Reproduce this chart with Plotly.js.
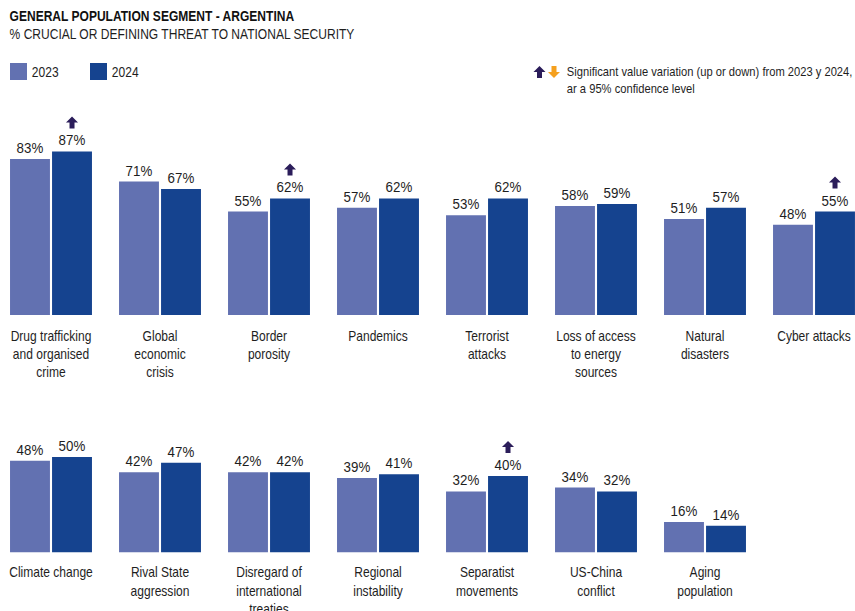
<!DOCTYPE html>
<html><head><meta charset="utf-8">
<script src="https://cdn.plot.ly/plotly-3.0.1.min.js"></script>
<style>
html,body{margin:0;padding:0;background:#fff;overflow:hidden;width:855px;height:611px}
#c{width:994px;height:611px;transform:scaleX(0.86016);transform-origin:0 0}
</style>
</head><body><div id="c"></div>
<script>
const cats1 = ["Drug trafficking<br>and organised<br>crime","Global<br>economic<br>crisis","Border<br>porosity","Pandemics","Terrorist<br>attacks","Loss of access<br>to energy<br>sources","Natural<br>disasters","Cyber attacks"];
const v2023_1 = [83,71,55,57,53,58,51,48];
const v2024_1 = [87,67,62,62,62,59,57,55];
const sig1 = [1,0,1,0,0,0,0,1];
const cats2 = ["Climate change","Rival State<br>aggression","Disregard of<br>international<br>treaties","Regional<br>instability","Separatist<br>movements","US-China<br>conflict","Aging<br>population"];
const v2023_2 = [48,42,42,39,32,34,16];
const v2024_2 = [50,47,42,41,40,32,14];
const sig2 = [0,0,0,0,1,0,0];
const years = ["2023","2024"];

const S = 855 / 994;   // horizontal compression of the page
const C23 = "#6271b1", C24 = "#15438f", ARROW = "#2b1d5a", ORANGE = "#f5a01e";
const FONT = "Liberation Sans, Arial, sans-serif";
const TXT = "#1e1e1e";
const BARGAP = 0.229;
const off24 = (1 - BARGAP) / 4;

function idx(a){ return a.map((_, i) => i); }
function bar(vals, color, xa, ya, name){
  return {type:"bar", x: idx(vals), y: vals, xaxis: xa, yaxis: ya, name: name,
    marker:{color: color}, text: vals.map(v => v + "%"), textposition: "outside",
    textfont:{family: FONT, size: 15.5, color: TXT}, cliponaxis: false,
    hoverinfo: "skip", showlegend: false};
}
const data = [
  bar(v2023_1, C23, "x", "y", years[0]), bar(v2024_1, C24, "x", "y", years[1]),
  bar(v2023_2, C23, "x2", "y2", years[0]), bar(v2024_2, C24, "x2", "y2", years[1])
];

function hx(v){ return (v / S).toFixed(2); }
function arrowUp(base){ // base = pixel offset of stem bottom
  const h = base + 6, t = base + 12;
  return `M0,${t} L${hx(6)},${h} L${hx(2.5)},${h} L${hx(2.5)},${base} L${hx(-2.5)},${base} L${hx(-2.5)},${h} L${hx(-6)},${h} Z`;
}
const shapes = [];
function arrows(sig, vals, xr, yr){
  sig.forEach((s, i) => { if (s) shapes.push({type:"path", xref: xr, yref: yr,
    xsizemode:"pixel", ysizemode:"pixel", xanchor: i + off24, yanchor: vals[i],
    path: arrowUp(23), fillcolor: ARROW, line:{width:0}}); });
}
arrows(sig1, v2024_1, "x", "y");
arrows(sig2, v2024_2, "x2", "y2");
// legend swatches
function px(xp){ return xp / 855; }
function py(yp){ return 1 - yp / 611; }
shapes.push({type:"rect", xref:"paper", yref:"paper", x0:px(10), x1:px(27), y0:py(80), y1:py(63), fillcolor:C23, line:{width:0}});
shapes.push({type:"rect", xref:"paper", yref:"paper", x0:px(90), x1:px(107), y0:py(80), y1:py(63), fillcolor:C24, line:{width:0}});
shapes.push({type:"path", xref:"paper", yref:"paper", xsizemode:"pixel", ysizemode:"pixel", xanchor:px(539.5), yanchor:py(72),
  path:arrowUp(-6), fillcolor:ARROW, line:{width:0}});
shapes.push({type:"path", xref:"paper", yref:"paper", xsizemode:"pixel", ysizemode:"pixel", xanchor:px(554), yanchor:py(72),
  path:`M0,-6 L${hx(6)},0 L${hx(2.5)},0 L${hx(2.5)},6 L${hx(-2.5)},6 L${hx(-2.5)},0 L${hx(-6)},0 Z`, fillcolor:ORANGE, line:{width:0}});

const annotations = [
  {xref:"paper", yref:"paper", x:px(8), y:py(16.5), xanchor:"left", yanchor:"middle", showarrow:false,
   text:"<b>GENERAL POPULATION SEGMENT - ARGENTINA</b>", font:{family:FONT, size:14, color:"#111"}},
  {xref:"paper", yref:"paper", x:px(8), y:py(34.5), xanchor:"left", yanchor:"middle", showarrow:false,
   text:"% CRUCIAL OR DEFINING THREAT TO NATIONAL SECURITY", font:{family:FONT, size:14, color:TXT}},
  {xref:"paper", yref:"paper", x:px(30), y:py(72), xanchor:"left", yanchor:"middle", showarrow:false,
   text:years[0], font:{family:FONT, size:14, color:TXT}},
  {xref:"paper", yref:"paper", x:px(110), y:py(72), xanchor:"left", yanchor:"middle", showarrow:false,
   text:years[1], font:{family:FONT, size:14, color:TXT}},
  {xref:"paper", yref:"paper", x:px(565), y:py(80.5), xanchor:"left", yanchor:"middle", showarrow:false, align:"left",
   text:"Significant value variation (up or down) from 2023 y 2024,<br>ar a 95% confidence level", font:{family:FONT, size:13, color:TXT}}
];

const xr = [-51/109, (855-51)/109];
function xax(cats, standoff){
  return {range: xr, tickvals: idx(cats), ticktext: cats, showgrid:false, zeroline:false, showline:false,
    ticks:"", ticklabelstandoff: standoff, ticklabeloverflow:"allow",
    tickfont:{family:FONT, size:14, color:TXT}, fixedrange:true};
}
const K1 = 1.88, K2 = 1.91, YMAX = 120;
const layout = {
  width:994, height:611, margin:{l:0, r:0, t:0, b:0}, paper_bgcolor:"#fff", plot_bgcolor:"#fff",
  barmode:"group", bargap: BARGAP, bargroupgap: 0.05, showlegend:false,
  xaxis: Object.assign(xax(cats1, 11), {anchor:"y"}),
  yaxis: {domain:[296/611, (296 + K1*YMAX)/611], range:[0,YMAX], visible:false, fixedrange:true},
  xaxis2: Object.assign(xax(cats2, 10), {anchor:"y2"}),
  yaxis2: {domain:[58.5/611, (58.5 + K2*YMAX)/611], range:[0,YMAX], visible:false, fixedrange:true},
  shapes: shapes, annotations: annotations, font:{family:FONT}
};
Plotly.newPlot("c", data, layout, {displayModeBar:false, staticPlot:true});
</script></body></html>
